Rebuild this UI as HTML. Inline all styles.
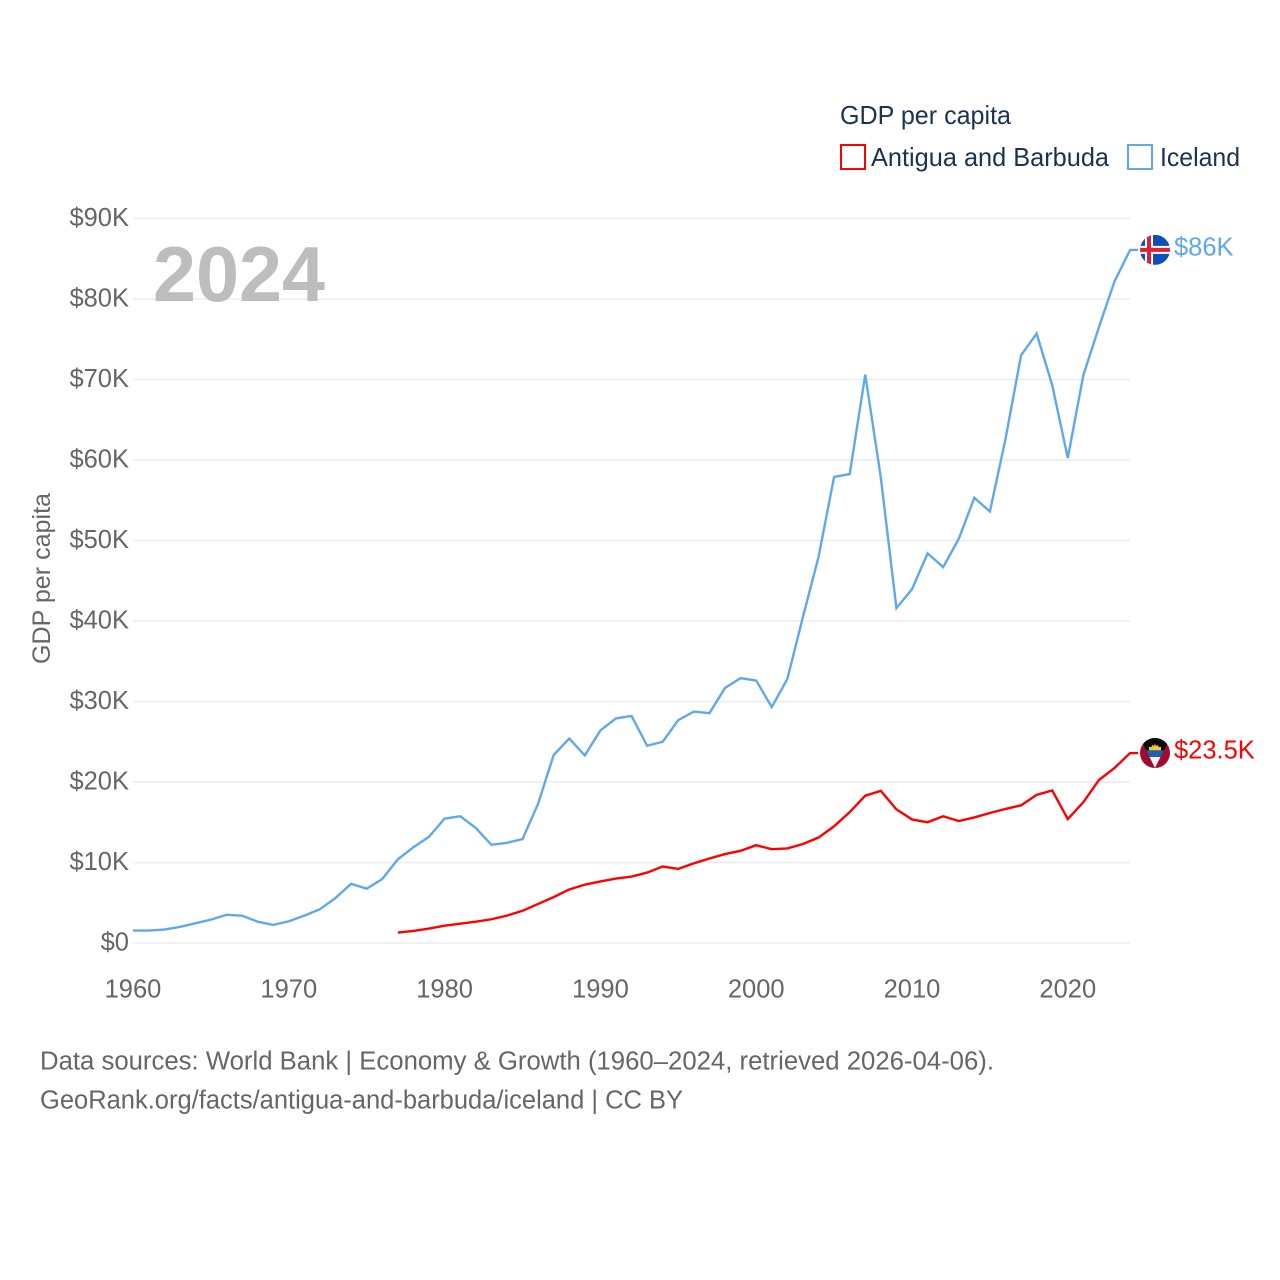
<!DOCTYPE html>
<html lang="en">
<head>
<meta charset="utf-8">
<title>GDP per capita: Antigua and Barbuda vs Iceland</title>
<style>
html,body{margin:0;padding:0;background:#fff;}
svg{display:block;}
text{font-family:"Liberation Sans",sans-serif;}
</style>
</head>
<body>
<svg id="chart" xmlns="http://www.w3.org/2000/svg" width="1280" height="1280" viewBox="0 0 1280 1280">
  <rect x="0" y="0" width="1280" height="1280" fill="#ffffff"/>
  <g id="grid"></g>
  <g id="yticks"></g>
  <g id="xticks"></g>
  <text x="153" y="301" font-size="78" font-weight="700" fill="#bdbdbd" textLength="172" lengthAdjust="spacingAndGlyphs">2024</text>
  <text transform="translate(50,664) rotate(-90)" font-size="25" fill="#666666" textLength="171" lengthAdjust="spacingAndGlyphs">GDP per capita</text>
  <g id="series"></g>
  <g>
    <text x="840" y="124" font-size="26" fill="#1a3353" textLength="171" lengthAdjust="spacingAndGlyphs">GDP per capita</text>
    <rect x="841" y="145" width="24" height="24" fill="#ffffff" stroke="#ff0000" stroke-width="2"/>
    <text x="871" y="166" font-size="26" fill="#1a3353" textLength="238" lengthAdjust="spacingAndGlyphs">Antigua and Barbuda</text>
    <rect x="1128" y="145" width="24" height="24" fill="#ffffff" stroke="#5fa8ec" stroke-width="2"/>
    <text x="1160" y="166" font-size="26" fill="#1a3353" textLength="80" lengthAdjust="spacingAndGlyphs">Iceland</text>
  </g>
  <defs>
    <clipPath id="flag-clip"><circle cx="0" cy="0" r="15"/></clipPath>
  </defs>
  <g id="flag-iceland" clip-path="url(#flag-clip)">
    <rect x="-15" y="-15" width="30" height="30" fill="#0a52b8"/>
    <rect x="-10" y="-15" width="8" height="30" fill="#ffffff"/>
    <rect x="-15" y="-4" width="30" height="8" fill="#ffffff"/>
    <rect x="-8" y="-15" width="4" height="30" fill="#e0203a"/>
    <rect x="-15" y="-2" width="30" height="4" fill="#e0203a"/>
  </g>
  <g id="flag-antigua" clip-path="url(#flag-clip)">
    <rect x="-15" y="-15" width="30" height="30" fill="#a00c2e"/>
    <polygon points="-15,-15 15,-15 0,15" fill="#0a0a0a"/>
    <polygon points="-6,-2.7 -6,-6 -3.5,-6 -3,-8 -1,-7 0,-9 1,-7 3,-8 3.5,-6 6,-6 6,-2.7" fill="#f6c934"/>
    <polygon points="-8.85,-2.7 8.85,-2.7 5.5,4 -5.5,4" fill="#1f5fb0"/>
    <polygon points="-5.5,4 5.5,4 0,15" fill="#f2f2f2"/>
  </g>
  <text id="label-iceland" x="1174" font-size="25.5" fill="#5fa8ec">$86K</text>
  <text id="label-antigua" x="1174" font-size="25.5" fill="#ff0000">$23.5K</text>
  <g>
    <text x="40" y="1069.5" font-size="25.5" fill="#666666" textLength="954" lengthAdjust="spacingAndGlyphs">Data sources: World Bank | Economy &amp; Growth (1960–2024, retrieved 2026-04-06).</text>
    <text x="40" y="1108.5" font-size="25.5" fill="#666666" textLength="643" lengthAdjust="spacingAndGlyphs">GeoRank.org/facts/antigua-and-barbuda/iceland | CC BY</text>
  </g>
</svg>
<script>
const yTickValues = [0, 10, 20, 30, 40, 50, 60, 70, 80, 90];
const yTickLabels = ["$0", "$10K", "$20K", "$30K", "$40K", "$50K", "$60K", "$70K", "$80K", "$90K"];
const xTickYears = [1960, 1970, 1980, 1990, 2000, 2010, 2020];
const icelandStartYear = 1960;
const icelandValues = [1.55, 1.55, 1.67, 2.0, 2.45, 2.9, 3.5, 3.4, 2.65, 2.25,
  2.7, 3.4, 4.2, 5.6, 7.35, 6.75, 7.95, 10.4, 11.9, 13.2,
  15.45, 15.75, 14.3, 12.2, 12.45, 12.9, 17.3, 23.35, 25.4, 23.3,
  26.4, 27.9, 28.2, 24.5, 25.0, 27.7, 28.75, 28.55, 31.7, 32.9,
  32.6, 29.3, 32.8, 40.5, 47.95, 57.9, 58.25, 70.6, 57.8, 41.6,
  43.95, 48.4, 46.7, 50.2, 55.3, 53.6, 62.6, 73.0, 75.7, 69.3,
  60.25, 70.55, 76.5, 82.2, 86.1];
const antiguaStartYear = 1977;
const antiguaValues = [1.3, 1.5, 1.8, 2.15, 2.4, 2.65, 2.95, 3.4, 4.0, 4.85,
  5.7, 6.65, 7.25, 7.65, 8.0, 8.25, 8.75, 9.5, 9.2, 9.9,
  10.5, 11.05, 11.45, 12.15, 11.65, 11.75, 12.3, 13.1, 14.5, 16.25,
  18.3, 18.9, 16.6, 15.35, 15.0, 15.75, 15.15, 15.6, 16.15, 16.65,
  17.1, 18.4, 18.95, 15.4, 17.5, 20.25, 21.75, 23.6];

const SVG_NS = "http://www.w3.org/2000/svg";
function xScale(year) { return 133 + (year - 1960) * 15.58; }
function yScale(value) { return 943 - value * 8.05; }

const gridGroup = document.getElementById("grid");
const yTickGroup = document.getElementById("yticks");
const xTickGroup = document.getElementById("xticks");
const seriesGroup = document.getElementById("series");

yTickValues.forEach(function (v, i) {
  const line = document.createElementNS(SVG_NS, "line");
  
  
  line.setAttribute("x1", 133);
  line.setAttribute("x2", 1130);
  line.setAttribute("y1", yScale(v));
  line.setAttribute("y2", yScale(v));
  line.setAttribute("stroke", "#ececec");
  line.setAttribute("stroke-width", 1.5);
  gridGroup.appendChild(line);

  const label = document.createElementNS(SVG_NS, "text");
  
  
  label.setAttribute("x", 129);
  label.setAttribute("y", yScale(v) + 7.5);
  label.setAttribute("text-anchor", "end");
  label.setAttribute("font-size", 25.5);
  label.setAttribute("fill", "#666666");
  label.textContent = yTickLabels[i];
  yTickGroup.appendChild(label);
});

xTickYears.forEach(function (year) {
  const label = document.createElementNS(SVG_NS, "text");
  
  
  label.setAttribute("x", xScale(year));
  label.setAttribute("y", 997.5);
  label.setAttribute("text-anchor", "middle");
  label.setAttribute("font-size", 25.5);
  label.setAttribute("fill", "#666666");
  label.textContent = year;
  xTickGroup.appendChild(label);
});

function seriesPoints(values, startYear) {
  const pts = values.map(function (v, i) {
    return xScale(startYear + i).toFixed(2) + "," + yScale(v).toFixed(2);
  });
  const last = values[values.length - 1];
  pts.push((xScale(startYear + values.length - 1) + 8).toFixed(2) + "," + yScale(last).toFixed(2));
  return pts.join(" ");
}

const icelandLine = document.createElementNS(SVG_NS, "polyline");


icelandLine.setAttribute("points", seriesPoints(icelandValues, icelandStartYear));
icelandLine.setAttribute("fill", "none");
icelandLine.setAttribute("stroke", "#5fa8ec");
icelandLine.setAttribute("stroke-width", 2.4);
seriesGroup.appendChild(icelandLine);

const antiguaLine = document.createElementNS(SVG_NS, "polyline");


antiguaLine.setAttribute("points", seriesPoints(antiguaValues, antiguaStartYear));
antiguaLine.setAttribute("fill", "none");
antiguaLine.setAttribute("stroke", "#ff0000");
antiguaLine.setAttribute("stroke-width", 2.4);
seriesGroup.appendChild(antiguaLine);

const icelandEnd = yScale(icelandValues[icelandValues.length - 1]);
const antiguaEnd = yScale(antiguaValues[antiguaValues.length - 1]);
document.getElementById("flag-iceland").setAttribute("transform", "translate(1155," + icelandEnd + ")");
document.getElementById("flag-antigua").setAttribute("transform", "translate(1155," + antiguaEnd + ")");
document.getElementById("label-iceland").setAttribute("y", icelandEnd + 5.5);
document.getElementById("label-antigua").setAttribute("y", antiguaEnd + 5.5);
</script>
</body>
</html>
